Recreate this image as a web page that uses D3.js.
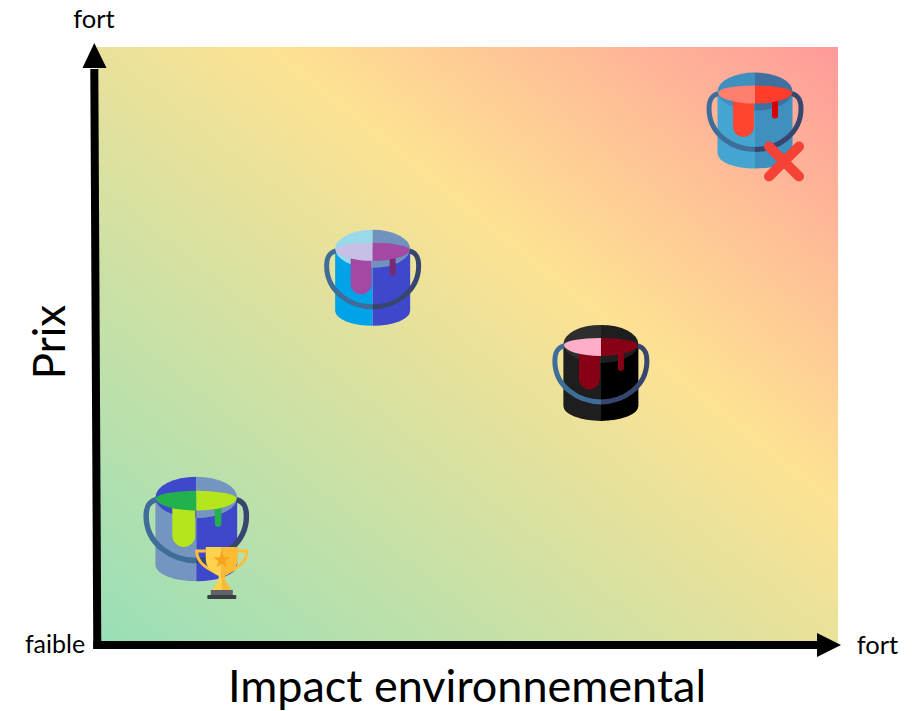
<!DOCTYPE html>
<html>
<head>
<meta charset="utf-8">
<style>
  html, body { margin: 0; padding: 0; background: #fff; }
  svg { display: block; }
  text { font-family: Lato, "Open Sans", sans-serif; fill: #000; }
</style>
<script src="https://cdn.jsdelivr.net/npm/d3@7"></script>
</head>
<body>
<div id="chart"></div>
<script>
// Values (0 = faible, 1 = fort)
const products = ['vert', 'bleu', 'noir', 'rouge'];
const impactValues = [0.134, 0.372, 0.68, 0.888];
const priceValues = [0.194, 0.614, 0.455, 0.877];
const xTickLabels = ['faible', 'fort'];
const yTickLabels = ['fort'];
const xTitle = 'Impact environnemental';
const yTitle = 'Prix';

const width = 922, height = 711;
const plot = { left: 97, right: 838, top: 47, bottom: 645 };

const x = d3.scaleLinear().domain([0, 1]).range([plot.left, plot.right]);
const y = d3.scaleLinear().domain([0, 1]).range([plot.bottom, plot.top]);

// Bucket colours, left half / right half
const palette = {
  vert:  { size: 1.09, body: ['#7395c0', '#3f48cc'], rim: ['#3f48cc', '#7395c0'], paint: ['#22b14c', '#b5e61d'], drip: ['#b5e61d', '#22b14c'] },
  bleu:  { size: 1, body: ['#00a2e8', '#3f48cc'], rim: ['#99d9ea', '#7092be'], paint: ['#c8bfe7', '#a349a4'], drip: ['#a349a4', '#7a2a70'] },
  noir:  { size: 1, body: ['#1e1e1e', '#000000'], rim: ['#2e2e2e', '#1e1e1e'], paint: ['#ffaec9', '#880015'], drip: ['#880015', '#880015'] },
  rouge: { size: 1, body: ['#44a5d0', '#3f8fbf'], rim: ['#3f8fbf', '#3f709f'], paint: ['#ff7f6e', '#ff3d2a'], drip: ['#ff4530', '#d90000'] }
};

const svg = d3.select('#chart').append('svg')
  .attr('width', width)
  .attr('height', height);

const defs = svg.append('defs');

// Background: green bottom-left to red top-right
const bg = defs.append('linearGradient').attr('id', 'bg')
  .attr('x1', 0).attr('y1', 1).attr('x2', 1).attr('y2', 0);
bg.append('stop').attr('offset', '0%').attr('stop-color', '#98dfb8');
bg.append('stop').attr('offset', '62%').attr('stop-color', '#fde293');
bg.append('stop').attr('offset', '100%').attr('stop-color', '#ff9a9a');

svg.append('rect')
  .attr('x', plot.left)
  .attr('y', plot.top)
  .attr('width', plot.right - plot.left)
  .attr('height', plot.bottom - plot.top)
  .attr('fill', 'url(#bg)');

// Half clips used to split each bucket down the middle
defs.append('clipPath').attr('id', 'half-l').append('rect')
  .attr('x', -60).attr('y', -60).attr('width', 60).attr('height', 120);
defs.append('clipPath').attr('id', 'half-r').append('rect')
  .attr('x', 0).attr('y', -60).attr('width', 60).attr('height', 120);

const handleLine = 'M-37,-27 C-44,-25 -46,-20 -46,-12 C-46,14 -22,29 0,29 C22,29 46,14 46,-12 C46,-20 44,-25 37,-27';

function drawBucket(g, c) {
  [0, 1].forEach(i => {
    const h = g.append('g').attr('clip-path', `url(#half-${i ? 'r' : 'l'})`);
    h.append('path')
      .attr('d', 'M-37.5,-29 L-37.5,33 A37.5,15 0 0 0 37.5,33 L37.5,-29 Z')
      .attr('fill', c.body[i]);
    h.append('ellipse')
      .attr('cy', -29).attr('rx', 37.5).attr('ry', 19)
      .attr('fill', c.rim[i]);
  });
  // Long drip on the left, thin one on the right, both under the paint
  g.append('path')
    .attr('d', 'M-22,-24 L-1,-24 L-1,6 A10.5,10.5 0 0 1 -22,6 Z')
    .attr('fill', c.drip[0]);
  g.append('path')
    .attr('d', 'M17,-24 L23,-24 L23,-5 A3,3 0 0 1 17,-5 Z')
    .attr('fill', c.drip[1]);
  [0, 1].forEach(i => {
    g.append('path')
      .attr('clip-path', `url(#half-${i ? 'r' : 'l'})`)
      .attr('d', 'M-37,-28 A37,7 0 0 1 37,-28 A37,11 0 0 1 -37,-28 Z')
      .attr('fill', c.paint[i]);
  });
  // Handle
  g.append('path')
    .attr('d', handleLine)
    .attr('clip-path', 'url(#half-l)')
    .attr('fill', 'none').attr('stroke', '#3f6d9a').attr('stroke-width', 5);
  g.append('path')
    .attr('d', handleLine)
    .attr('clip-path', 'url(#half-r)')
    .attr('fill', 'none').attr('stroke', '#37466f').attr('stroke-width', 5);
}

function drawTrophy(g) {
  g.append('path')
    .attr('d', 'M-16,-22 L-25,-22 C-25,-10 -15,-5 -7,-1 M16,-22 L25,-22 C25,-10 15,-5 7,-1')
    .attr('fill', 'none').attr('stroke', '#fdbf3a').attr('stroke-width', 3);
  g.append('path')
    .attr('d', 'M-16,-26 L0,-26 L0,17 L-10,17 C-6,12 -3,8 -3,3 C-10,0 -16,-6 -16,-14 Z')
    .attr('fill', '#ffd34d');
  g.append('path')
    .attr('d', 'M16,-26 L0,-26 L0,17 L10,17 C6,12 3,8 3,3 C10,0 16,-6 16,-14 Z')
    .attr('fill', '#fdbb33');
  g.append('path')
    .attr('d', d3.symbol(d3.symbolStar, 95)())
    .attr('transform', 'translate(0,-13)')
    .attr('fill', '#f9a21e');
  g.append('rect').attr('x', -11).attr('y', 17).attr('width', 22).attr('height', 6).attr('fill', '#5f6368');
  g.append('rect').attr('x', -14.5).attr('y', 22).attr('width', 29).attr('height', 4).attr('rx', 1).attr('fill', '#3a3f47');
}

function drawCross(g) {
  g.append('path')
    .attr('d', 'M-15,-15 L15,15 M15,-15 L-15,15')
    .attr('fill', 'none')
    .attr('stroke', '#f44336')
    .attr('stroke-width', 10)
    .attr('stroke-linecap', 'round');
}

const buckets = svg.append('g')
  .selectAll('g')
  .data(products)
  .join('g')
  .attr('transform', (d, i) => `translate(${x(impactValues[i])},${y(priceValues[i])}) scale(${palette[d].size})`);

buckets.each(function (d) { drawBucket(d3.select(this), palette[d]); });

// Badges on best and worst products
const best = products.indexOf('vert'), worst = products.indexOf('rouge');
drawTrophy(svg.append('g').attr('transform', `translate(${x(impactValues[best]) + 25.5},${y(priceValues[best]) + 44})`));
drawCross(svg.append('g').attr('transform', `translate(${x(impactValues[worst]) + 29},${y(priceValues[worst]) + 41})`));

// Axes as thick arrows, the y axis leans very slightly like the hand-placed original
const axisW = 8;
svg.append('path')
  .attr('d', d3.line()([[x(0) + 0.3, plot.bottom + 4], [x(0) - 2.7, plot.top + 22]]))
  .attr('stroke', '#000').attr('stroke-width', axisW).attr('fill', 'none');
svg.append('path')
  .attr('d', d3.line()([[x(0) - 3.7, plot.bottom], [plot.right - 20, plot.bottom]]))
  .attr('stroke', '#000').attr('stroke-width', axisW).attr('fill', 'none');
svg.append('path')
  .attr('d', `M${x(0) - 14.5},${plot.top + 21} L${x(0) - 2.7},${plot.top - 4} L${x(0) + 9.5},${plot.top + 21} Z`)
  .attr('fill', '#000');
svg.append('path')
  .attr('d', `M${plot.right - 21},${plot.bottom - 12} L${plot.right + 3},${plot.bottom} L${plot.right - 21},${plot.bottom + 12} Z`)
  .attr('fill', '#000');

// Axis end labels
svg.append('text').attr('x', 55).attr('y', 653).attr('text-anchor', 'middle').attr('font-size', 25).text(xTickLabels[0]);
svg.append('text').attr('x', 877.5).attr('y', 654).attr('text-anchor', 'middle').attr('font-size', 25.5).text(xTickLabels[1]);
svg.append('text').attr('x', 94).attr('y', 28).attr('text-anchor', 'middle').attr('font-size', 25.5).text(yTickLabels[0]);

// Axis titles
svg.append('text').attr('x', 467).attr('y', 701.5).attr('text-anchor', 'middle').attr('font-size', 45).text(xTitle);
svg.append('text')
  .attr('transform', 'translate(65,342) rotate(-90)')
  .attr('text-anchor', 'middle')
  .attr('font-size', 44)
  .text(yTitle);
</script>
</body>
</html>
